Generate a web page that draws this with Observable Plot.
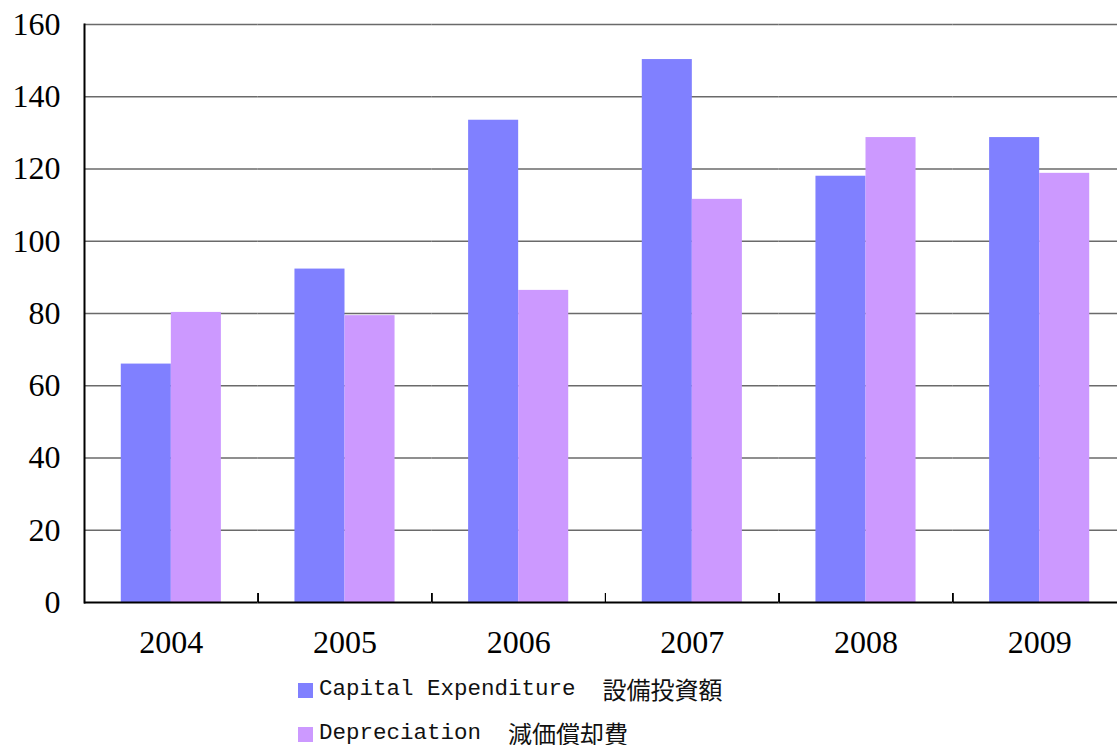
<!DOCTYPE html>
<html>
<head>
<meta charset="utf-8">
<script src="https://cdn.jsdelivr.net/npm/d3@7"></script>
<script src="https://cdn.jsdelivr.net/npm/@observablehq/plot@0.6"></script>
<style>
  html, body { margin: 0; padding: 0; background: white; overflow: hidden; width: 1117px; height: 745px; }
  #chart svg { display: block; max-width: none !important; height: 665px !important; }
  .legend { position: absolute; left: 298px; top: 667px; }
  .item { height: 44px; display: flex; align-items: center; }
  .sw { width: 15px; height: 15px; display: inline-block; margin-right: 6px; position: relative; top: 1px; }
  .lat { font-family: "Liberation Mono", monospace; font-size: 22.5px; line-height: 22px; white-space: pre; color: #111; }
  .cjk { font-family: "Noto Sans CJK JP", sans-serif; font-size: 24px; line-height: 22px; color: #111; }
</style>
</head>
<body>
<div id="chart"></div>
<div class="legend" id="legend"></div>
<script>
const years = ["2004", "2005", "2006", "2007", "2008", "2009"];
const capex = [66, 92.3, 133.5, 150.3, 118, 128.7];
const depreciation = [80.3, 79.4, 86.4, 111.6, 128.7, 118.8];
const seriesNames = ["Capital Expenditure", "Depreciation"];
const seriesCJK = ["設備投資額", "減価償却費"];
const seriesColors = ["#8080FF", "#CC99FF"];
const yTicks = [0, 20, 40, 60, 80, 100, 120, 140, 160];

const data = years.flatMap((yr, i) => [
  {year: yr, series: seriesNames[0], value: capex[i]},
  {year: yr, series: seriesNames[1], value: depreciation[i]}
]);

const chart = Plot.plot({
  width: 1126,
  height: 665,
  marginLeft: 84,
  marginRight: 0,
  marginTop: 24,
  marginBottom: 63,
  style: {fontFamily: "'Liberation Serif', serif", fontSize: "32px", color: "black", background: "white", maxWidth: "none"},
  fx: {domain: years, padding: 0, round: false, label: null},
  x: {domain: seriesNames, paddingInner: 0, paddingOuter: 0.735, round: false, axis: null},
  y: {domain: [0, 160], axis: null},
  color: {domain: seriesNames, range: seriesColors},
  marks: [
    Plot.ruleY(yTicks.slice(1), {stroke: "#6a6a6a", strokeWidth: 1.5}),
    Plot.barY(data, {fx: "year", x: "series", y: "value", fill: "series"}),
    Plot.ruleY([0], {stroke: "black", strokeWidth: 2}),
    Plot.frame({anchor: "left", facetAnchor: "left", stroke: "black", strokeWidth: 2}),
    Plot.axisY(yTicks, {tickSize: 0, tickPadding: 24, fontSize: 32, label: null}),
    Plot.axisFx({anchor: "bottom", tickSize: 0, tickPadding: 28, fontSize: 32, label: null}),
    Plot.axisFx(years.slice(0, 5), {anchor: "bottom", tickSize: -9, tickFormat: null, dx: 86.8, stroke: "black", label: null})
  ]
});
document.getElementById("chart").appendChild(chart);

const legend = d3.select("#legend");
seriesNames.forEach((name, i) => {
  const item = legend.append("div").attr("class", "item");
  item.append("span").attr("class", "sw").style("background", seriesColors[i]);
  item.append("span").attr("class", "lat").text(name + "  ");
  item.append("span").attr("class", "cjk").text(seriesCJK[i]);
});
</script>
</body>
</html>
